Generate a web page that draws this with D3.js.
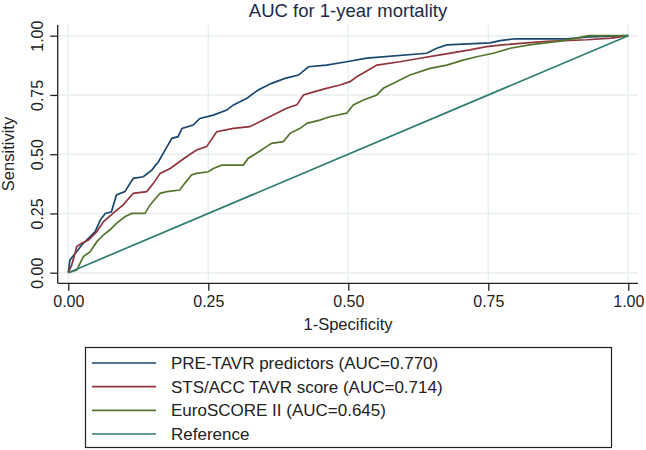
<!DOCTYPE html>
<html>
<head>
<meta charset="utf-8">
<script src="https://cdn.jsdelivr.net/npm/d3@7"></script>
<style>
  body { margin: 0; background: #fff; }
  svg { display: block; font-family: "Liberation Sans", Arial, sans-serif; }
</style>
</head>
<body>
<svg id="chart" width="646" height="450"></svg>
<script>
// ROC points: [1-specificity, sensitivity]
const preTavr = [
  [0, 0], [0.003, 0.054], [0.012, 0.08], [0.024, 0.117], [0.036, 0.145], [0.048, 0.173],
  [0.057, 0.222], [0.066, 0.25], [0.077, 0.257], [0.086, 0.328], [0.101, 0.342], [0.116, 0.398],
  [0.134, 0.405], [0.149, 0.433], [0.161, 0.468], [0.173, 0.518], [0.185, 0.567], [0.196, 0.574],
  [0.203, 0.609], [0.223, 0.623], [0.235, 0.651], [0.259, 0.665], [0.283, 0.686], [0.295, 0.708],
  [0.319, 0.736], [0.339, 0.771], [0.363, 0.799], [0.387, 0.82], [0.411, 0.834], [0.429, 0.869],
  [0.461, 0.876], [0.497, 0.89], [0.533, 0.905], [0.64, 0.926], [0.658, 0.947], [0.676, 0.961],
  [0.753, 0.97], [0.771, 0.979], [0.798, 0.987], [0.89, 0.987], [0.93, 0.995], [1, 1]
];
const stsAcc = [
  [0, 0], [0.006, 0.032], [0.012, 0.082], [0.015, 0.11], [0.024, 0.124], [0.036, 0.138],
  [0.051, 0.173], [0.0625, 0.215], [0.083, 0.257], [0.098, 0.286], [0.116, 0.335], [0.14, 0.342],
  [0.152, 0.377], [0.164, 0.419], [0.182, 0.44], [0.194, 0.461], [0.211, 0.489], [0.229, 0.518],
  [0.247, 0.532], [0.253, 0.553], [0.265, 0.595], [0.295, 0.609], [0.324, 0.616], [0.348, 0.644],
  [0.372, 0.673], [0.39, 0.694], [0.408, 0.708], [0.42, 0.75], [0.44, 0.764], [0.461, 0.778],
  [0.485, 0.792], [0.503, 0.806], [0.515, 0.827], [0.536, 0.855], [0.551, 0.876], [0.592, 0.89],
  [0.628, 0.905], [0.664, 0.919], [0.717, 0.94], [0.747, 0.954], [0.78, 0.962], [0.854, 0.976],
  [0.926, 0.983], [0.97, 0.99], [1, 1]
];
const euroScore = [
  [0, 0], [0.015, 0.011], [0.027, 0.068], [0.039, 0.089], [0.051, 0.131], [0.0625, 0.159],
  [0.074, 0.18], [0.086, 0.208], [0.101, 0.236], [0.113, 0.25], [0.137, 0.25], [0.146, 0.286],
  [0.164, 0.335], [0.176, 0.342], [0.199, 0.349], [0.208, 0.377], [0.22, 0.412], [0.229, 0.419],
  [0.25, 0.426], [0.259, 0.44], [0.274, 0.454], [0.3125, 0.454], [0.321, 0.482], [0.336, 0.504],
  [0.345, 0.518], [0.354, 0.532], [0.363, 0.546], [0.384, 0.553], [0.396, 0.588], [0.414, 0.609],
  [0.426, 0.63], [0.449, 0.644], [0.467, 0.658], [0.497, 0.673], [0.509, 0.708], [0.527, 0.729],
  [0.551, 0.75], [0.5625, 0.778], [0.586, 0.806], [0.61, 0.834], [0.646, 0.862], [0.676, 0.876],
  [0.705, 0.897], [0.729, 0.911], [0.759, 0.926], [0.789, 0.947], [0.824, 0.961], [0.878, 0.977],
  [0.908, 0.99], [0.929, 1.0], [1, 1]
];
const reference = [[0, 0], [1, 1]];

const seriesNames = [
  "PRE-TAVR predictors (AUC=0.770)",
  "STS/ACC TAVR score (AUC=0.714)",
  "EuroSCORE II (AUC=0.645)",
  "Reference"
];
const seriesColors = ["#1a476f", "#90353b", "#55752f", "#2f7d70"];
const tickValues = [0, 0.25, 0.5, 0.75, 1];

const svg = d3.select("#chart");

const xScale = d3.scaleLinear().domain([0, 1]).range([68.3, 628.3]);
const yScale = d3.scaleLinear().domain([0, 1]).range([272.7, 35.7]);

const plotLeft = 57.7, plotRight = 638, plotTop = 25, plotBottom = 283.3;

// grid
const grid = svg.append("g").attr("stroke", "#e8f0f2").attr("stroke-width", 1.5);
grid.selectAll(".gy").data(tickValues).enter().append("line")
  .attr("x1", plotLeft).attr("x2", plotRight)
  .attr("y1", (d) => yScale(d)).attr("y2", (d) => yScale(d));
grid.selectAll(".gx").data(tickValues).enter().append("line")
  .attr("y1", plotTop).attr("y2", plotBottom)
  .attr("x1", (d) => xScale(d)).attr("x2", (d) => xScale(d));

// axes
const fmt = d3.format(".2f");
const yAxis = svg.append("g")
  .attr("transform", `translate(${plotLeft},0)`)
  .call(d3.axisLeft(yScale).tickValues(tickValues).tickFormat(fmt).tickSize(7.5).tickSizeOuter(0));
yAxis.select(".domain").remove();
yAxis.append("line").attr("x1", 0).attr("x2", 0).attr("y1", plotTop).attr("y2", plotBottom)
  .attr("stroke", "#222").attr("stroke-width", 1.3);
yAxis.selectAll(".tick line").attr("stroke", "#222").attr("stroke-width", 1.3);
yAxis.selectAll(".tick text")
  .attr("font-size", 16).attr("fill", "#222")
  .attr("x", null).attr("dy", null)
  .attr("text-anchor", "middle")
  .attr("transform", "translate(-14.5,0) rotate(-90)");

const xAxis = svg.append("g")
  .attr("transform", `translate(0,${plotBottom})`)
  .call(d3.axisBottom(xScale).tickValues(tickValues).tickFormat(fmt).tickSize(7.5).tickSizeOuter(0));
xAxis.select(".domain").remove();
xAxis.append("line").attr("x1", plotLeft).attr("x2", plotRight).attr("y1", 0).attr("y2", 0)
  .attr("stroke", "#222").attr("stroke-width", 1.3);
xAxis.selectAll(".tick line").attr("stroke", "#222").attr("stroke-width", 1.3);
xAxis.selectAll(".tick text")
  .attr("font-size", 16).attr("fill", "#222")
  .attr("y", 23.5).attr("dy", null);

// curves
const line = d3.line().x((d) => xScale(d[0])).y((d) => yScale(d[1]));
[preTavr, stsAcc, euroScore, reference].forEach((pts, i) => {
  svg.append("path")
    .datum(pts)
    .attr("fill", "none")
    .attr("stroke", seriesColors[i])
    .attr("stroke-width", 1.7)
    .attr("stroke-linejoin", "miter")
    .attr("d", line);
});

// titles
svg.append("text")
  .attr("x", 348).attr("y", 17)
  .attr("text-anchor", "middle")
  .attr("font-size", 18.5)
  .attr("fill", "#1c2a4a")
  .text("AUC for 1-year mortality");

svg.append("text")
  .attr("x", 348).attr("y", 330)
  .attr("text-anchor", "middle")
  .attr("font-size", 16.5)
  .attr("fill", "#222")
  .text("1-Specificity");

svg.append("text")
  .attr("transform", "translate(14,154) rotate(-90)")
  .attr("text-anchor", "middle")
  .attr("font-size", 16.5)
  .attr("fill", "#222")
  .text("Sensitivity");

// legend
const legend = svg.append("g");
legend.append("rect")
  .attr("x", 85.5).attr("y", 347.5).attr("width", 526).attr("height", 100)
  .attr("fill", "#fff").attr("stroke", "#222").attr("stroke-width", 1.2);

const rowY = d3.scaleLinear().domain([0, 3]).range([363, 434]);
seriesNames.forEach((name, i) => {
  legend.append("line")
    .attr("x1", 92).attr("x2", 156)
    .attr("y1", rowY(i)).attr("y2", rowY(i))
    .attr("stroke", seriesColors[i]).attr("stroke-width", 1.7);
  legend.append("text")
    .attr("x", 171).attr("y", rowY(i) + 6)
    .attr("font-size", 17)
    .attr("fill", "#222")
    .text(name);
});
</script>
</body>
</html>
